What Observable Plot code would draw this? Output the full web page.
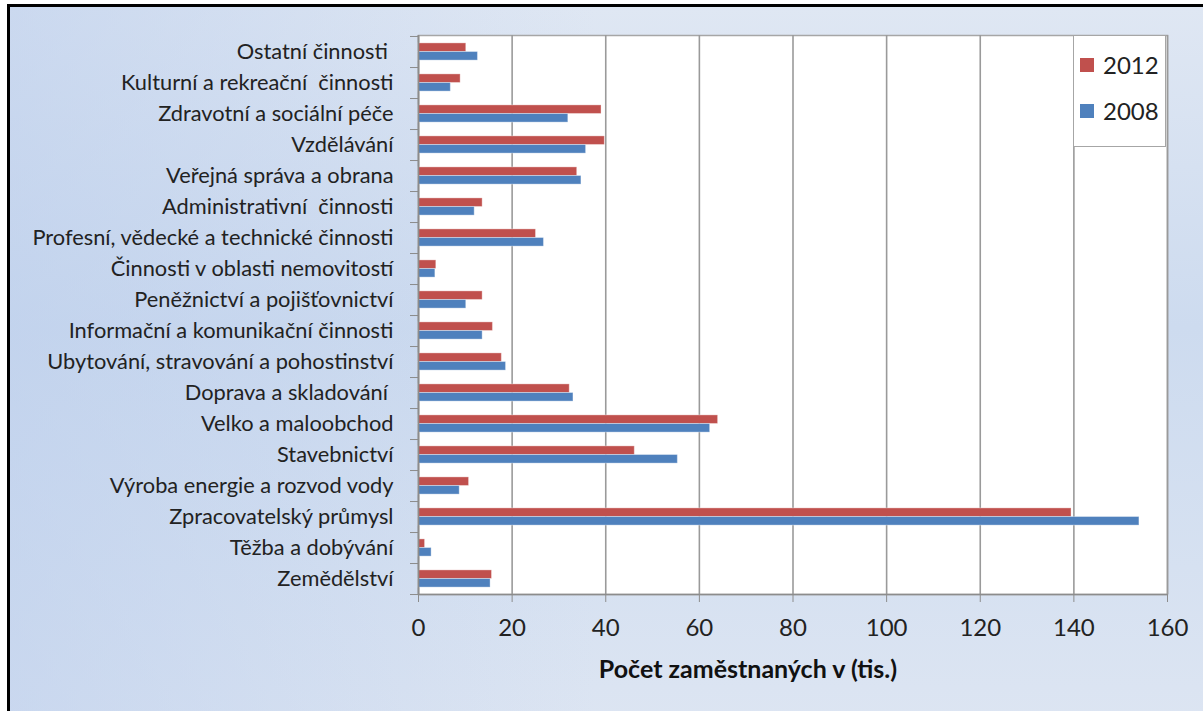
<!DOCTYPE html>
<html>
<head>
<meta charset="utf-8">
<script src="https://cdn.jsdelivr.net/npm/d3@7"></script>
<script src="https://cdn.jsdelivr.net/npm/@observablehq/plot@0.6"></script>
<style>
  html, body { margin: 0; padding: 0; background: #ffffff; overflow: hidden; }
  #wrap { position: relative; width: 1203px; height: 711px; overflow: hidden; }
  #panel {
    position: absolute; left: 7px; top: 4px; width: 1300px; height: 800px;
    border-left: 3px solid #000; border-top: 3px solid #000;
    background:
      linear-gradient(to right, rgba(186,205,236,0.55) 0%, rgba(186,205,236,0.0) 45%),
      linear-gradient(to bottom, #dfe7f3 0%, #cddbef 40%, #d6e1f1 70%, #e0e7f3 100%);
  }
  #chart { position: absolute; left: 0; top: 0; }
  #chart svg text { white-space: pre; }
  #legend {
    position: absolute; left: 1073px; top: 35px; width: 93px; height: 112px;
    background: #fff; border: 1px solid #a6a6a6; box-sizing: border-box;
    font-family: Lato, "Open Sans", sans-serif; font-size: 24px; color: #222;
  }
  .li { position: absolute; left: 6px; display: flex; align-items: center; }
  .sw { width: 14px; height: 14px; margin-right: 9px; }
</style>
</head>
<body>
<div id="wrap">
  <div id="panel"></div>
  <div id="chart"></div>
  <div id="legend"></div>
</div>
<script>
const categories = [
  "Ostatní činnosti ",
  "Kulturní a rekreační  činnosti",
  "Zdravotní a sociální péče",
  "Vzdělávání",
  "Veřejná správa a obrana",
  "Administrativní  činnosti",
  "Profesní, vědecké a technické činnosti",
  "Činnosti v oblasti nemovitostí",
  "Peněžnictví a pojišťovnictví",
  "Informační a komunikační činnosti",
  "Ubytování, stravování a pohostinství",
  "Doprava a skladování ",
  "Velko a maloobchod",
  "Stavebnictví",
  "Výroba energie a rozvod vody",
  "Zpracovatelský průmysl",
  "Těžba a dobývání",
  "Zemědělství"
];
const values2012 = [10.2, 9.0, 39.1, 39.8, 33.9, 13.7, 25.1, 3.8, 13.7, 15.9, 17.8, 32.3, 64.0, 46.2, 10.8, 139.5, 1.4, 15.7];
const values2008 = [12.7, 6.9, 32.0, 35.8, 34.8, 12.0, 26.8, 3.6, 10.2, 13.7, 18.7, 33.1, 62.3, 55.4, 8.8, 154.0, 2.8, 15.4];
const seriesNames = ["2012", "2008"];
const seriesColors = ["#c0504d", "#4f81bd"];
const xTicks = [0, 20, 40, 60, 80, 100, 120, 140, 160];
const xTitle = "Počet zaměstnaných v (tis.)";

const W = 1203, H = 711;
const mT = 35, mB = 117, mL = 418, mR = 36;
const band = (H - mT - mB) / categories.length;
const half = band / 2;
const gap = 6.9;

const rows2012 = categories.map((c, i) => ({cat: c, v: values2012[i]}));
const rows2008 = categories.map((c, i) => ({cat: c, v: values2008[i]}));
const noText = () => "";

const plot = Plot.plot({
  width: W, height: H,
  marginTop: mT, marginBottom: mB, marginLeft: mL, marginRight: mR,
  style: {background: "transparent", fontFamily: "Lato, 'Open Sans', sans-serif", color: "#222"},
  x: {domain: [0, 160], axis: null},
  y: {type: "band", domain: categories, padding: 0, axis: null},
  marks: [
    Plot.frame({fill: "white", stroke: "#a6a6a6", strokeWidth: 1.5}),
    Plot.gridX(xTicks, {stroke: "#9a9a9a", strokeOpacity: 1, strokeWidth: 1.6}),
    Plot.barX(rows2012, {x: "v", y: "cat", fill: seriesColors[0], insetTop: gap, insetBottom: half,
      stroke: "white", strokeOpacity: 0.35, strokeWidth: 1}),
    Plot.barX(rows2008, {x: "v", y: "cat", fill: seriesColors[1], insetTop: half, insetBottom: gap,
      stroke: "white", strokeOpacity: 0.35, strokeWidth: 1}),
    Plot.axisX({ticks: xTicks, tickSize: 8, tickPadding: 16, fontSize: 24, stroke: "#8c8c8c", fill: "#222", label: null}),
    Plot.axisY({tickSize: 0, tickPadding: 25, fontSize: 21.8, fill: "#222", label: null}),
    Plot.axisY({tickSize: 8, tickFormat: noText, dy: half, stroke: "#8c8c8c", label: null}),
    Plot.axisY({ticks: [categories[0]], tickSize: 8, tickFormat: noText, dy: -half, stroke: "#8c8c8c", label: null}),
    Plot.ruleX([0], {stroke: "#8c8c8c", strokeWidth: 1.6}),
    Plot.ruleY([0], {y: () => categories[categories.length - 1], dy: half, stroke: "#8c8c8c", strokeWidth: 1.6}),
    Plot.text([xTitle], {frameAnchor: "bottom", dy: 83, dx: -45, fontWeight: "bold", fontSize: 25, fill: "#111"})
  ]
});
document.getElementById("chart").appendChild(plot);

const legend = document.getElementById("legend");
seriesNames.forEach((name, i) => {
  const item = document.createElement("div");
  item.className = "li";
  item.style.top = (14 + i * 46) + "px";
  const sw = document.createElement("div");
  sw.className = "sw";
  sw.style.background = seriesColors[i];
  const t = document.createElement("span");
  t.textContent = name;
  item.appendChild(sw);
  item.appendChild(t);
  legend.appendChild(item);
});
</script>
</body>
</html>
